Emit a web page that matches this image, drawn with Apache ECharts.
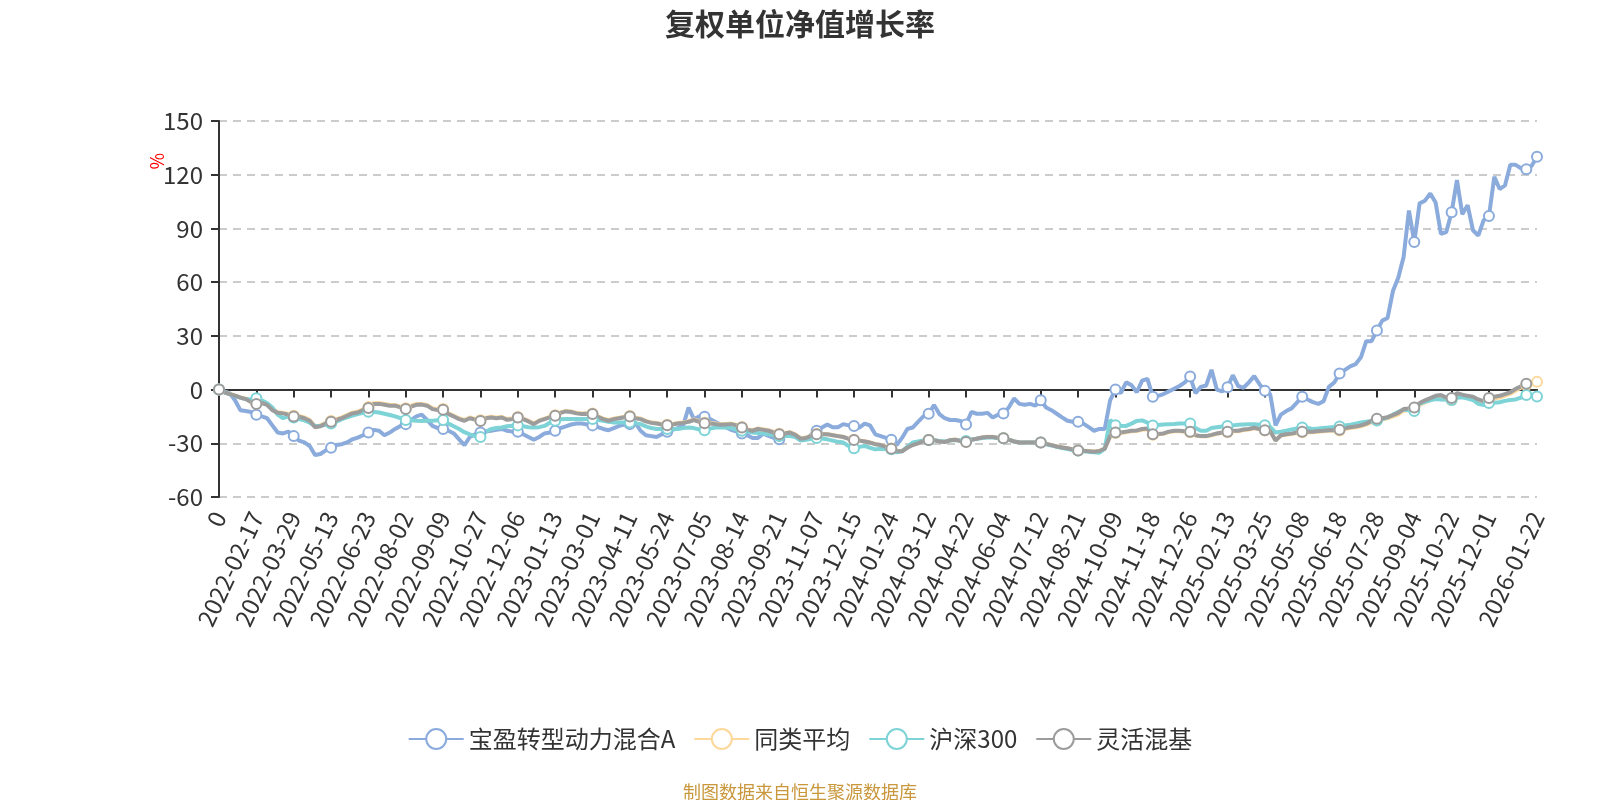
<!DOCTYPE html>
<html>
<head>
<meta charset="utf-8">
<title>复权单位净值增长率</title>
<script src="https://cdn.jsdelivr.net/npm/echarts@6/dist/echarts.min.js"></script>
<style>
  html, body { margin: 0; padding: 0; background: #fff; }
  #chart { width: 1600px; height: 800px; }
</style>
</head>
<body>
<div id="chart"></div>
<script>
// 横轴标签：每7个取样点（28个交易日）一个，最后一个是末日
var tickLabels = ["0", "2022-02-17", "2022-03-29", "2022-05-13", "2022-06-23", "2022-08-02",
  "2022-09-09", "2022-10-27", "2022-12-06", "2023-01-13", "2023-03-01", "2023-04-11",
  "2023-05-24", "2023-07-05", "2023-08-14", "2023-09-21", "2023-11-07", "2023-12-15",
  "2024-01-24", "2024-03-12", "2024-04-22", "2024-06-04", "2024-07-12", "2024-08-21",
  "2024-10-09", "2024-11-18", "2024-12-26", "2025-02-13", "2025-03-25", "2025-05-08",
  "2025-06-18", "2025-07-28", "2025-09-04", "2025-10-22", "2025-12-01", "2026-01-22"];

var seriesNames = ["宝盈转型动力混合A", "同类平均", "沪深300", "灵活混基"];

// 每4个交易日读一个值（%），每行10个
var fundValues = [
  0, -1, -2, -6, -11.5, -12, -12.5, -14, -15, -16,
  -20, -24, -24.5, -23.5, -26, -28.5, -29.5, -31.5, -36.5, -36,
  -34, -32.5, -31, -30.5, -29.5, -27.8, -26.8, -25.5, -24, -22.5,
  -23, -25.5, -24, -22, -20.3, -19.3, -17, -15, -14, -17,
  -20.3, -21.5, -22, -23, -24.5, -27.8, -31, -26.5, -25, -24,
  -23.5, -23, -22.5, -22, -23, -23.5, -23.5, -25, -26.5, -28,
  -26.5, -24.5, -24, -23, -21.5, -20.5, -19.5, -19, -19, -19.5,
  -20, -21, -22, -22.7, -21.5, -20.3, -19.5, -19.3, -18.4, -23,
  -25.5, -26, -26.5, -25, -23.6, -22.5, -21.5, -20, -10, -16.5,
  -15, -15.2, -16.5, -18, -19.5, -21, -22.5, -23.5, -24.6, -25.5,
  -27, -27, -24.6, -25.9, -27, -27.8, -25.5, -24.5, -25.9, -27,
  -27.8, -25, -23, -21.2, -19.5, -21, -21, -19.3, -20, -20.3,
  -21.2, -19, -20, -25, -26, -27, -28, -31, -27, -22,
  -21.2, -18, -15, -13.5, -8.6, -13.7, -16, -17, -17, -17.5,
  -19.5, -12.5, -13.5, -13.5, -13, -15.6, -14, -13.3, -10, -5,
  -8, -8.5, -8, -9, -6, -10, -11.5, -13.5, -15.5, -17.4,
  -18, -18, -19, -21, -23, -22, -22, -6, 0, -2,
  4, 2.5, -1.5, 5, 6, -4, -3.5, -2.5, -1, 0.5,
  2, 4, 7.3, -2, 1.5, 2.3, 11, 0, -1, 1.3,
  8, 2, 1, 4, 7.5, 3, -0.7, -2.6, -20, -14,
  -12, -10.5, -7.3, -4, -5.5, -7, -8, -6.5, 1.5, 4,
  9, 11, 13, 14.2, 18, 27, 27, 33, 38.5, 40,
  55, 62.5, 74, 100, 82.4, 104, 105.5, 109.5, 104.5, 87,
  88, 99, 117, 98, 103, 89, 86, 94.6, 97, 118.9,
  112, 114, 125.5, 125.5, 123.6, 123, 125, 130
];

var peerAvgValues = [
  0, -1.5, -2.3, -3.2, -4.3, -5, -6.6, -7.8, -7.2, -8.2,
  -11, -12.6, -13, -13.6, -14.6, -14.8, -15.5, -17, -20.5, -20,
  -18.5, -17.5, -16.5, -15.5, -14.2, -12.9, -12.3, -11, -9.8, -7.6,
  -7.5, -8, -8.5, -8.6, -9.5, -10.4, -9, -8, -8, -8.6,
  -10.4, -11, -10.9, -13.2, -14.6, -16, -17, -15.6, -16.4, -17.2,
  -15.7, -15.2, -15.6, -15.3, -16.5, -16.2, -15.3, -16.2, -17.4, -18.9,
  -17.2, -16.2, -15.2, -14.3, -12.7, -11.9, -12.2, -13, -13.4, -13.2,
  -13.4, -14.9, -16.2, -17, -16.2, -15.7, -15.2, -14.7, -15.7, -16.2,
  -17.5, -18.3, -18.7, -19.2, -19.6, -19.2, -18.7, -18.3, -17.7, -16.7,
  -17.7, -18.5, -18.7, -19, -19.4, -19.2, -19, -19.7, -20.9, -22.2,
  -22.7, -21.7, -22.2, -22.7, -23.7, -24.7, -24.3, -23.8, -25, -27.2,
  -26.8, -25.8, -24.8, -24.8, -24.9, -25.4, -25.9, -26.4, -27.4, -28,
  -28.4, -28.9, -29.5, -30.4, -30.9, -31.9, -32.9, -34.3, -34.3, -32.3,
  -30.9, -29.9, -28.7, -28, -28.1, -28.9, -29.2, -28.2, -27.9, -28.7,
  -29.2, -27.9, -27.4, -26.7, -26.4, -26.4, -26.9, -27.1, -27.9, -28.9,
  -29.5, -29.5, -29.4, -29.5, -29.5, -30.2, -30.9, -31.7, -32.2, -32.7,
  -33.4, -33.9, -34.1, -34.3, -34.6, -34.2, -32.9, -26.2, -24.3, -24.2,
  -23.8, -23.3, -23.1, -22.4, -22.2, -25.2, -25, -24.7, -23.8, -23.3,
  -23.3, -23.5, -23.8, -25.6, -26.1, -26.1, -25.5, -24.7, -24.2, -23.8,
  -23.3, -23.3, -22.6, -22.3, -21.6, -22.2, -22.9, -23.4, -28.3, -25.7,
  -25.2, -24.8, -24.3, -23.9, -23.8, -23.8, -23.5, -23.3, -23, -23,
  -22.8, -22.1, -21.5, -21.1, -20.5, -19.6, -18.2, -17, -16.7, -16.1,
  -15, -13.8, -11.8, -11.4, -11, -8.6, -7.1, -5.9, -4.6, -4.1,
  -5.5, -5.8, -3.2, -3.9, -4.6, -5.1, -6.5, -7.4, -5.7, -5,
  -4.5, -3.4, -2.3, -0.5, 1, 2.5, 3.3, 4.3
];

var hs300Values = [
  0, -1.5, -2.5, -3.5, -4.5, -5.3, -5.5, -4.9, -6, -7.5,
  -10, -14, -16, -15, -15.6, -16.5, -17.2, -18.5, -20.3, -20.3,
  -19.5, -19, -18, -16.5, -15.5, -14.5, -13.7, -13, -12.4, -12.5,
  -12.8, -13.5, -14.2, -15, -16, -17, -17.2, -17.4, -17.5, -17.4,
  -17.4, -17.2, -17, -19, -20.5, -22, -23.8, -25, -26, -26.5,
  -23.5, -22, -21.5, -21.2, -20.5, -20.2, -20, -20.5, -21, -21.2,
  -21, -20.3, -18.5, -17.4, -16.6, -16.5, -16.5, -16.5, -16.5, -16.5,
  -16.5, -17, -17.4, -18, -18.4, -18.4, -18.4, -18.4, -18.8, -19.3,
  -20.5, -21.5, -22, -22, -22, -22, -22, -21.5, -21.2, -21.5,
  -22.3, -22.7, -21.8, -21.2, -21.2, -21.2, -21.5, -22.3, -23, -23.5,
  -24, -24.3, -24.6, -25, -25.5, -26, -26, -25.9, -26.5, -28.5,
  -28, -27.5, -27, -27.3, -27.8, -28.5, -29.2, -29.6, -31.5, -32.8,
  -32, -31.5, -32.5, -33.4, -33, -33.2, -33.4, -35, -34.5, -32,
  -29.6, -29, -28.4, -28.1, -28.3, -28.7, -29, -28.5, -28.2, -28.5,
  -28.7, -28, -27.5, -27, -26.8, -26.8, -27, -27.2, -28, -29,
  -29.5, -29.6, -29.6, -29.6, -29.6, -30.5, -31.2, -32, -32.6, -33.2,
  -33.8, -34, -34.5, -34.8, -35, -35.3, -33, -17, -19.9, -20.2,
  -20.3, -19, -17.5, -17.2, -18.5, -20, -19.8, -19.5, -19.3, -19.2,
  -19, -19, -19, -21.5, -23, -23, -21.5, -21, -20.6, -20.3,
  -20, -19.7, -19.5, -19.3, -19.3, -19.6, -19.9, -20.8, -24, -23.5,
  -23, -22.3, -21.7, -21.2, -21.5, -22, -21.8, -21.5, -21.2, -20.9,
  -20.6, -20, -19.6, -19, -18.4, -18, -17.6, -17.3, -16.5, -15.6,
  -14, -12.5, -11.2, -11.5, -12, -8, -6.8, -6, -5.3, -5.5,
  -5.7, -5.8, -4.6, -4.3, -5, -5.8, -8, -8.6, -7.5, -7.3,
  -7.1, -6.3, -5.8, -5.5, -4.5, -3, -3.5, -3.9
];

var flexMixValues = [
  0, -1.5, -2.5, -3.4, -4.5, -5.3, -7, -8.1, -7.5, -8.5,
  -11.5, -13, -13.3, -14, -15, -15.2, -16, -17.4, -21, -20.5,
  -19, -18, -17, -16, -14.6, -13.3, -12.8, -11.5, -10.3, -8,
  -8, -8.5, -9, -9, -10, -10.9, -9.5, -8.5, -8.4, -9,
  -10.9, -11.5, -11.3, -13.7, -15, -16.5, -17.4, -16, -16.8, -17.6,
  -16, -15.6, -16, -15.6, -16.9, -16.5, -15.6, -16.5, -17.8, -19.3,
  -17.5, -16.5, -15.5, -14.6, -13, -12.2, -12.5, -13.3, -13.7, -13.5,
  -13.7, -15.2, -16.5, -17.4, -16.5, -16, -15.5, -15, -16, -16.5,
  -17.8, -18.6, -19, -19.5, -19.9, -19.5, -19, -18.6, -18, -17,
  -18, -18.8, -19, -19.3, -19.7, -19.5, -19.3, -20, -21.2, -22.5,
  -23, -22, -22.5, -23, -24, -25, -24.5, -24, -25.3, -27.5,
  -27, -26, -25, -25, -25, -25.5, -26, -26.5, -27.5, -28.1,
  -28.5, -29, -29.6, -30.5, -31, -32, -33, -34.5, -34.5, -32.5,
  -31, -30, -28.8, -28.1, -28.2, -29, -29.3, -28.3, -28, -28.8,
  -29.3, -28, -27.5, -26.8, -26.5, -26.5, -27, -27.2, -28, -29,
  -29.6, -29.6, -29.5, -29.6, -29.6, -30.3, -31, -31.8, -32.3, -32.8,
  -33.5, -34, -34.2, -34.4, -34.7, -34.3, -33, -26, -24, -24,
  -23.5, -23, -22.8, -22, -21.8, -25, -24.8, -24.5, -23.5, -23,
  -23, -23.3, -23.6, -25.5, -26, -26, -25.3, -24.5, -24, -23.5,
  -23, -23, -22.3, -22, -21.3, -22, -22.7, -23.2, -28.5, -25.5,
  -25, -24.6, -24, -23.6, -23.5, -23.5, -23.2, -23, -22.7, -22.7,
  -22.5, -21.7, -21, -20.6, -20, -19, -17.5, -16.3, -16, -15.4,
  -14.3, -13, -10.9, -10.5, -10, -7.5, -6, -4.8, -3.5, -3,
  -4.5, -4.7, -2, -2.8, -3.5, -4, -5.5, -6.5, -4.7, -4,
  -3.5, -2.5, -1.5, 0.4, 1.8, 3.2, 3.6, null
];

var colors = ["#8aabdc", "#fdd89b", "#7dd3d6", "#9c9c9c"];

// 类目：标签位置放日期，其余为空
var categories = [];
for (var k = 0; k < fundValues.length; k++) {
  if (k % 7 === 0 && k / 7 < tickLabels.length - 1) {
    categories.push(tickLabels[k / 7]);
  } else if (k === fundValues.length - 1) {
    categories.push(tickLabels[tickLabels.length - 1]);
  } else {
    categories.push("");
  }
}

function lineSeries(name, values, color) {
  return {
    name: name,
    type: "line",
    data: values,
    symbol: "emptyCircle",
    symbolSize: 10,
    showSymbol: true,
    lineStyle: { width: 4, color: color },
    itemStyle: { color: color, borderWidth: 2 },
    emphasis: { disabled: true }
  };
}

var myChart = echarts.init(document.getElementById("chart"));

myChart.setOption({
  animation: false,
  textStyle: { fontFamily: '"Microsoft YaHei", "Noto Sans CJK SC", sans-serif' },
  color: colors,
  title: [
    {
      text: "复权单位净值增长率",
      left: "center",
      top: 4,
      textStyle: { fontSize: 30, fontWeight: "bold", color: "#333" }
    },
    {
      text: "制图数据来自恒生聚源数据库",
      left: "center",
      top: 778,
      textStyle: { fontSize: 18, fontWeight: "normal", color: "#c9973c" }
    }
  ],
  // 纵轴单位
  graphic: [
    {
      type: "text",
      left: 148,
      top: 153,
      rotation: Math.PI / 2,
      style: { text: "%", fill: "#ff0000", fontSize: 18, fontFamily: '"Microsoft YaHei", "Noto Sans CJK SC", sans-serif' }
    }
  ],
  legend: {
    data: seriesNames,
    left: "center",
    top: 722,
    itemWidth: 55,
    itemHeight: 25,
    itemGap: 18,
    textStyle: { fontSize: 24, color: "#333" }
  },
  grid: {
    left: 219,
    right: 63,
    top: 121,
    bottom: 303
  },
  xAxis: {
    type: "category",
    data: categories,
    boundaryGap: false,
    axisLine: { onZero: true, lineStyle: { color: "#333", width: 2 } },
    axisTick: { show: true, length: 8, lineStyle: { color: "#333", width: 2 } },
    axisLabel: {
      interval: 6,
      showMaxLabel: true,
      rotate: 65,
      margin: 16,
      fontSize: 24,
      color: "#333"
    },
    splitLine: { show: false }
  },
  yAxis: {
    type: "value",
    min: -60,
    max: 150,
    interval: 30,
    axisLine: { show: true, lineStyle: { color: "#333", width: 2 } },
    axisTick: { show: true, length: 8, lineStyle: { color: "#333", width: 2 } },
    axisLabel: { fontSize: 24, color: "#333", margin: 16 },
    splitLine: { lineStyle: { type: [8, 6], color: "#cccccc", width: 2 } }
  },
  series: [
    lineSeries(seriesNames[0], fundValues, colors[0]),
    lineSeries(seriesNames[1], peerAvgValues, colors[1]),
    lineSeries(seriesNames[2], hs300Values, colors[2]),
    lineSeries(seriesNames[3], flexMixValues, colors[3])
  ]
});
</script>
</body>
</html>
